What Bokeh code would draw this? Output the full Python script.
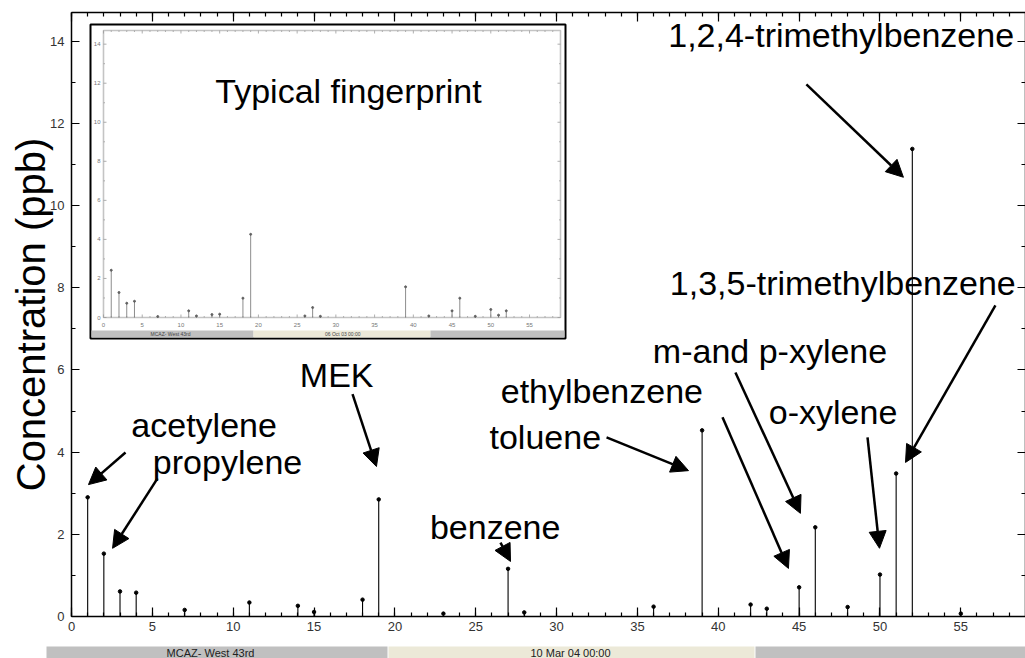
from bokeh.plotting import figure
from bokeh.models import (Range1d, LinearAxis, Arrow, NormalHead, Label, FixedTicker,
                          ColumnDataSource)
from bokeh.layouts import column
from bokeh.embed import file_html
from bokeh.resources import INLINE
from bokeh.core.properties import value

# ---- data: VOC fingerprint, MCAZ West 43rd, 10 Mar 04 00:00 ----
peak_ids = [1, 2, 3, 4, 7, 11, 14, 15, 18, 19, 23, 27, 28, 36, 39, 42, 43, 45, 46, 48, 50, 51, 52, 55]
conc_ppb = [2.90, 1.53, 0.61, 0.58, 0.16, 0.34, 0.26, 0.11, 0.41, 2.85, 0.07, 1.16, 0.10, 0.24,
            4.53, 0.29, 0.19, 0.71, 2.17, 0.23, 1.02, 3.48, 11.38, 0.07]

# typical fingerprint (06 Oct 03 00:00)
fp_ids = [1, 2, 3, 4, 7, 11, 12, 14, 15, 18, 19, 26, 27, 28, 39, 42, 45, 46, 48, 50, 51, 52]
fp_conc = [2.42, 1.28, 0.73, 0.83, 0.05, 0.34, 0.08, 0.15, 0.17, 0.99, 4.26, 0.08, 0.51, 0.06,
           1.57, 0.08, 0.34, 0.99, 0.06, 0.41, 0.12, 0.34]

x_major_ticks = [0, 5, 10, 15, 20, 25, 30, 35, 40, 45, 50, 55]
x_minor_ticks = list(range(0, 59))
y_major_ticks = [0, 2, 4, 6, 8, 10, 12, 14]
y_minor_ticks = list(range(0, 15))
x_tick_labels = [str(t) for t in x_major_ticks]
y_tick_labels = [str(t) for t in y_major_ticks]

# compound labels: (text, label x, label y, arrow tail x, tail y, head x, head y) in data units
annotations = [
    ("1,2,4-trimethylbenzene", 47.6, 14.15, 45.45, 12.95, 51.45, 10.69),
    ("1,3,5-trimethylbenzene", 47.7, 8.11, 57.14, 7.57, 51.58, 3.75),
    ("m-and p-xylene", 43.2, 6.45, 41.06, 5.94, 45.08, 2.51),
    ("o-xylene", 47.1, 4.97, 49.23, 4.36, 49.97, 1.66),
    ("ethylbenzene", 32.8, 5.50, 40.26, 4.85, 44.34, 1.17),
    ("toluene", 29.3, 4.38, 33.09, 4.36, 38.16, 3.55),
    ("benzene", 26.2, 2.17, 26.53, 1.80, 27.15, 1.34),
    ("MEK", 16.4, 5.87, 17.38, 5.41, 18.86, 3.65),
    ("acetylene", 8.2, 4.65, 3.34, 3.99, 1.05, 3.21),
    ("propylene", 9.65, 3.75, 5.32, 3.36, 2.54, 1.66),
]

FONT = "Liberation Sans"
BIG = "34px"
X_END, Y_END = 59.0, 14.7

# frame geometry (screen px) used to place the inset panel
MAIN_L, MAIN_R, MAIN_T, MAIN_B = 71, 1025, 12, 616
IL, IR, IT, IB = 103, 560, 30, 317
ux = X_END / (IR - IL)
uy = Y_END / (IB - IT)
ix0 = -(IL - MAIN_L) * ux
iy0 = -(MAIN_B - IB) * uy


def ix(px):
    return (px - IL) * ux


def iy(py):
    return (IB - py) * uy


p = figure(width=1025, height=644, x_range=Range1d(0, X_END), y_range=Range1d(0, Y_END),
           output_backend="svg", toolbar_location=None,
           min_border_left=MAIN_L, min_border_right=0, min_border_top=MAIN_T, min_border_bottom=28)
p.frame_align = False
p.grid.visible = False
p.outline_line_color = None
p.background_fill_color = "white"

p.extra_x_ranges = {"inset_x": Range1d(ix0, ix0 + (MAIN_R - MAIN_L) * ux)}
p.extra_y_ranges = {"inset_y": Range1d(iy0, iy0 + (MAIN_B - MAIN_T) * uy)}


def style_axis(ax, major, minor, major_len, labels=True):
    ax.ticker = FixedTicker(ticks=major, minor_ticks=minor)
    ax.major_tick_in = major_len
    ax.major_tick_out = 0
    ax.minor_tick_in = 4
    ax.minor_tick_out = 0
    ax.axis_line_color = "black"
    ax.axis_line_width = 1.5
    ax.major_tick_line_color = "black"
    ax.minor_tick_line_color = "black"
    ax.major_tick_line_width = 1.2
    ax.minor_tick_line_width = 1.2
    if labels:
        ax.major_label_text_font = FONT
        ax.major_label_text_font_size = "13px"
        ax.major_label_text_color = "#333333"
    else:
        ax.major_label_overrides = {t: "" for t in major}
        ax.major_label_standoff = 0


style_axis(p.xaxis[0], x_major_ticks, x_minor_ticks, 9)
p.xaxis[0].major_label_standoff = 5
style_axis(p.yaxis[0], y_major_ticks, y_minor_ticks, 8)
p.yaxis[0].major_label_standoff = 7
p.yaxis[0].axis_label = "Concentration (ppb)"
p.yaxis[0].axis_label_text_font = FONT
p.yaxis[0].axis_label_text_font_size = "40px"
p.yaxis[0].axis_label_text_font_style = "normal"
p.yaxis[0].axis_label_text_color = "black"
p.yaxis[0].axis_label_standoff = -6

top_axis = LinearAxis()
style_axis(top_axis, x_major_ticks, x_minor_ticks, 9, labels=False)
p.add_layout(top_axis, "above")
right_axis = LinearAxis()
style_axis(right_axis, y_major_ticks, y_minor_ticks, 8, labels=False)
p.add_layout(right_axis, "right")

# ---- main stems ----
src = ColumnDataSource(dict(x=peak_ids, y=conc_ppb, base=[0] * len(peak_ids)))
p.segment(x0="x", y0="base", x1="x", y1="y", source=src, line_color="black", line_width=1.1)
p.scatter(x="x", y="y", source=src, size=3.5, color="black")

# ---- inset: typical fingerprint ----
IXR, IYR = "inset_x", "inset_y"
# panel with black border
p.quad(left=ix(90), right=ix(565), bottom=iy(338), top=iy(24), fill_color="white",
       line_color="black", line_width=2, x_range_name=IXR, y_range_name=IYR)
# status strip of the inset
p.quad(left=[ix(91), ix(253), ix(430)], right=[ix(253), ix(430), ix(564)],
       bottom=iy(337), top=iy(330), fill_color=["#c0c0c0", "#ece9d8", "#c0c0c0"],
       line_color=None, x_range_name=IXR, y_range_name=IYR)
p.text(x=[ix(170), ix(343)], y=[iy(333.5), iy(333.5)], text=["MCAZ- West 43rd", "06 Oct 03  00:00"],
       text_font=value(FONT), text_font_size="5px", text_color="#444444", text_align="center",
       text_baseline="middle", x_range_name=IXR, y_range_name=IYR)
# inset plot frame
p.quad(left=0, right=X_END, bottom=0, top=Y_END, fill_color=None, line_color="#c4c4c4",
       line_width=1.6, x_range_name=IXR, y_range_name=IYR)

# inset ticks (inward on all four sides)
tx_len_major, tx_len_minor = 3 * uy, 1.5 * uy
ty_len_major, ty_len_minor = 3 * ux, 1.5 * ux
seg_x0, seg_y0, seg_x1, seg_y1 = [], [], [], []
for t in x_minor_ticks:
    L = tx_len_major if t in x_major_ticks else tx_len_minor
    seg_x0 += [t, t]
    seg_x1 += [t, t]
    seg_y0 += [0, Y_END]
    seg_y1 += [L, Y_END - L]
for t in y_minor_ticks:
    L = ty_len_major if t in y_major_ticks else ty_len_minor
    seg_y0 += [t, t]
    seg_y1 += [t, t]
    seg_x0 += [0, X_END]
    seg_x1 += [L, X_END - L]
p.segment(x0=seg_x0, y0=seg_y0, x1=seg_x1, y1=seg_y1, line_color="#9a9a9a", line_width=0.8,
          x_range_name=IXR, y_range_name=IYR)

# inset tick labels
p.text(x=x_major_ticks, y=[iy(324)] * len(x_major_ticks), text=x_tick_labels,
       text_font=value(FONT), text_font_size="6px", text_color="#777777", text_align="center",
       text_baseline="middle", x_range_name=IXR, y_range_name=IYR)
p.text(x=[ix(100)] * len(y_major_ticks), y=y_major_ticks, text=y_tick_labels,
       text_font=value(FONT), text_font_size="6px", text_color="#777777", text_align="right",
       text_baseline="middle", x_range_name=IXR, y_range_name=IYR)

fp_src = ColumnDataSource(dict(x=fp_ids, y=fp_conc, base=[0] * len(fp_ids)))
p.segment(x0="x", y0="base", x1="x", y1="y", source=fp_src, line_color="#808080", line_width=0.9,
          x_range_name=IXR, y_range_name=IYR)
p.scatter(x="x", y="y", source=fp_src, size=2, color="#606060", x_range_name=IXR, y_range_name=IYR)

p.add_layout(Label(x=ix(348), y=iy(90), x_range_name=IXR, y_range_name=IYR,
                   text="Typical fingerprint", text_font=FONT, text_font_size=BIG,
                   text_color="black", text_align="center", text_baseline="middle"))

# ---- compound labels and arrows ----
for name, lx, ly, x0, y0, x1, y1 in annotations:
    p.add_layout(Label(x=lx, y=ly, text=name, text_font=FONT, text_font_size=BIG,
                       text_color="black", text_align="center", text_baseline="middle"))
    p.add_layout(Arrow(x_start=x0, y_start=y0, x_end=x1, y_end=y1, line_width=2.5,
                       line_color="black",
                       end=NormalHead(size=17, fill_color="black", line_color="black")))

# ---- status bar below the chart ----
bar_left = [46, 388, 755]
bar_right = [387, 754, 1025]
bar_colors = ["#c0c0c0", "#ece9d8", "#c0c0c0"]
sb = figure(width=1025, height=14, x_range=Range1d(0, 1025), y_range=Range1d(0, 14),
            output_backend="svg", toolbar_location=None, min_border=0,
            x_axis_location=None, y_axis_location=None)
sb.frame_align = False
sb.grid.visible = False
sb.outline_line_color = None
sb.quad(left=bar_left, right=bar_right, bottom=0, top=12, fill_color=bar_colors, line_color=None)
sb.text(x=[210, 530], y=[6, 6], text=["MCAZ- West 43rd", "10 Mar 04  00:00"],
        text_font=value(FONT), text_font_size="11px", text_color="#222222",
        text_align=["center", "left"], text_baseline="middle")

layout = column(p, sb, spacing=0)
open("out.html", "w").write(file_html(layout, INLINE))
